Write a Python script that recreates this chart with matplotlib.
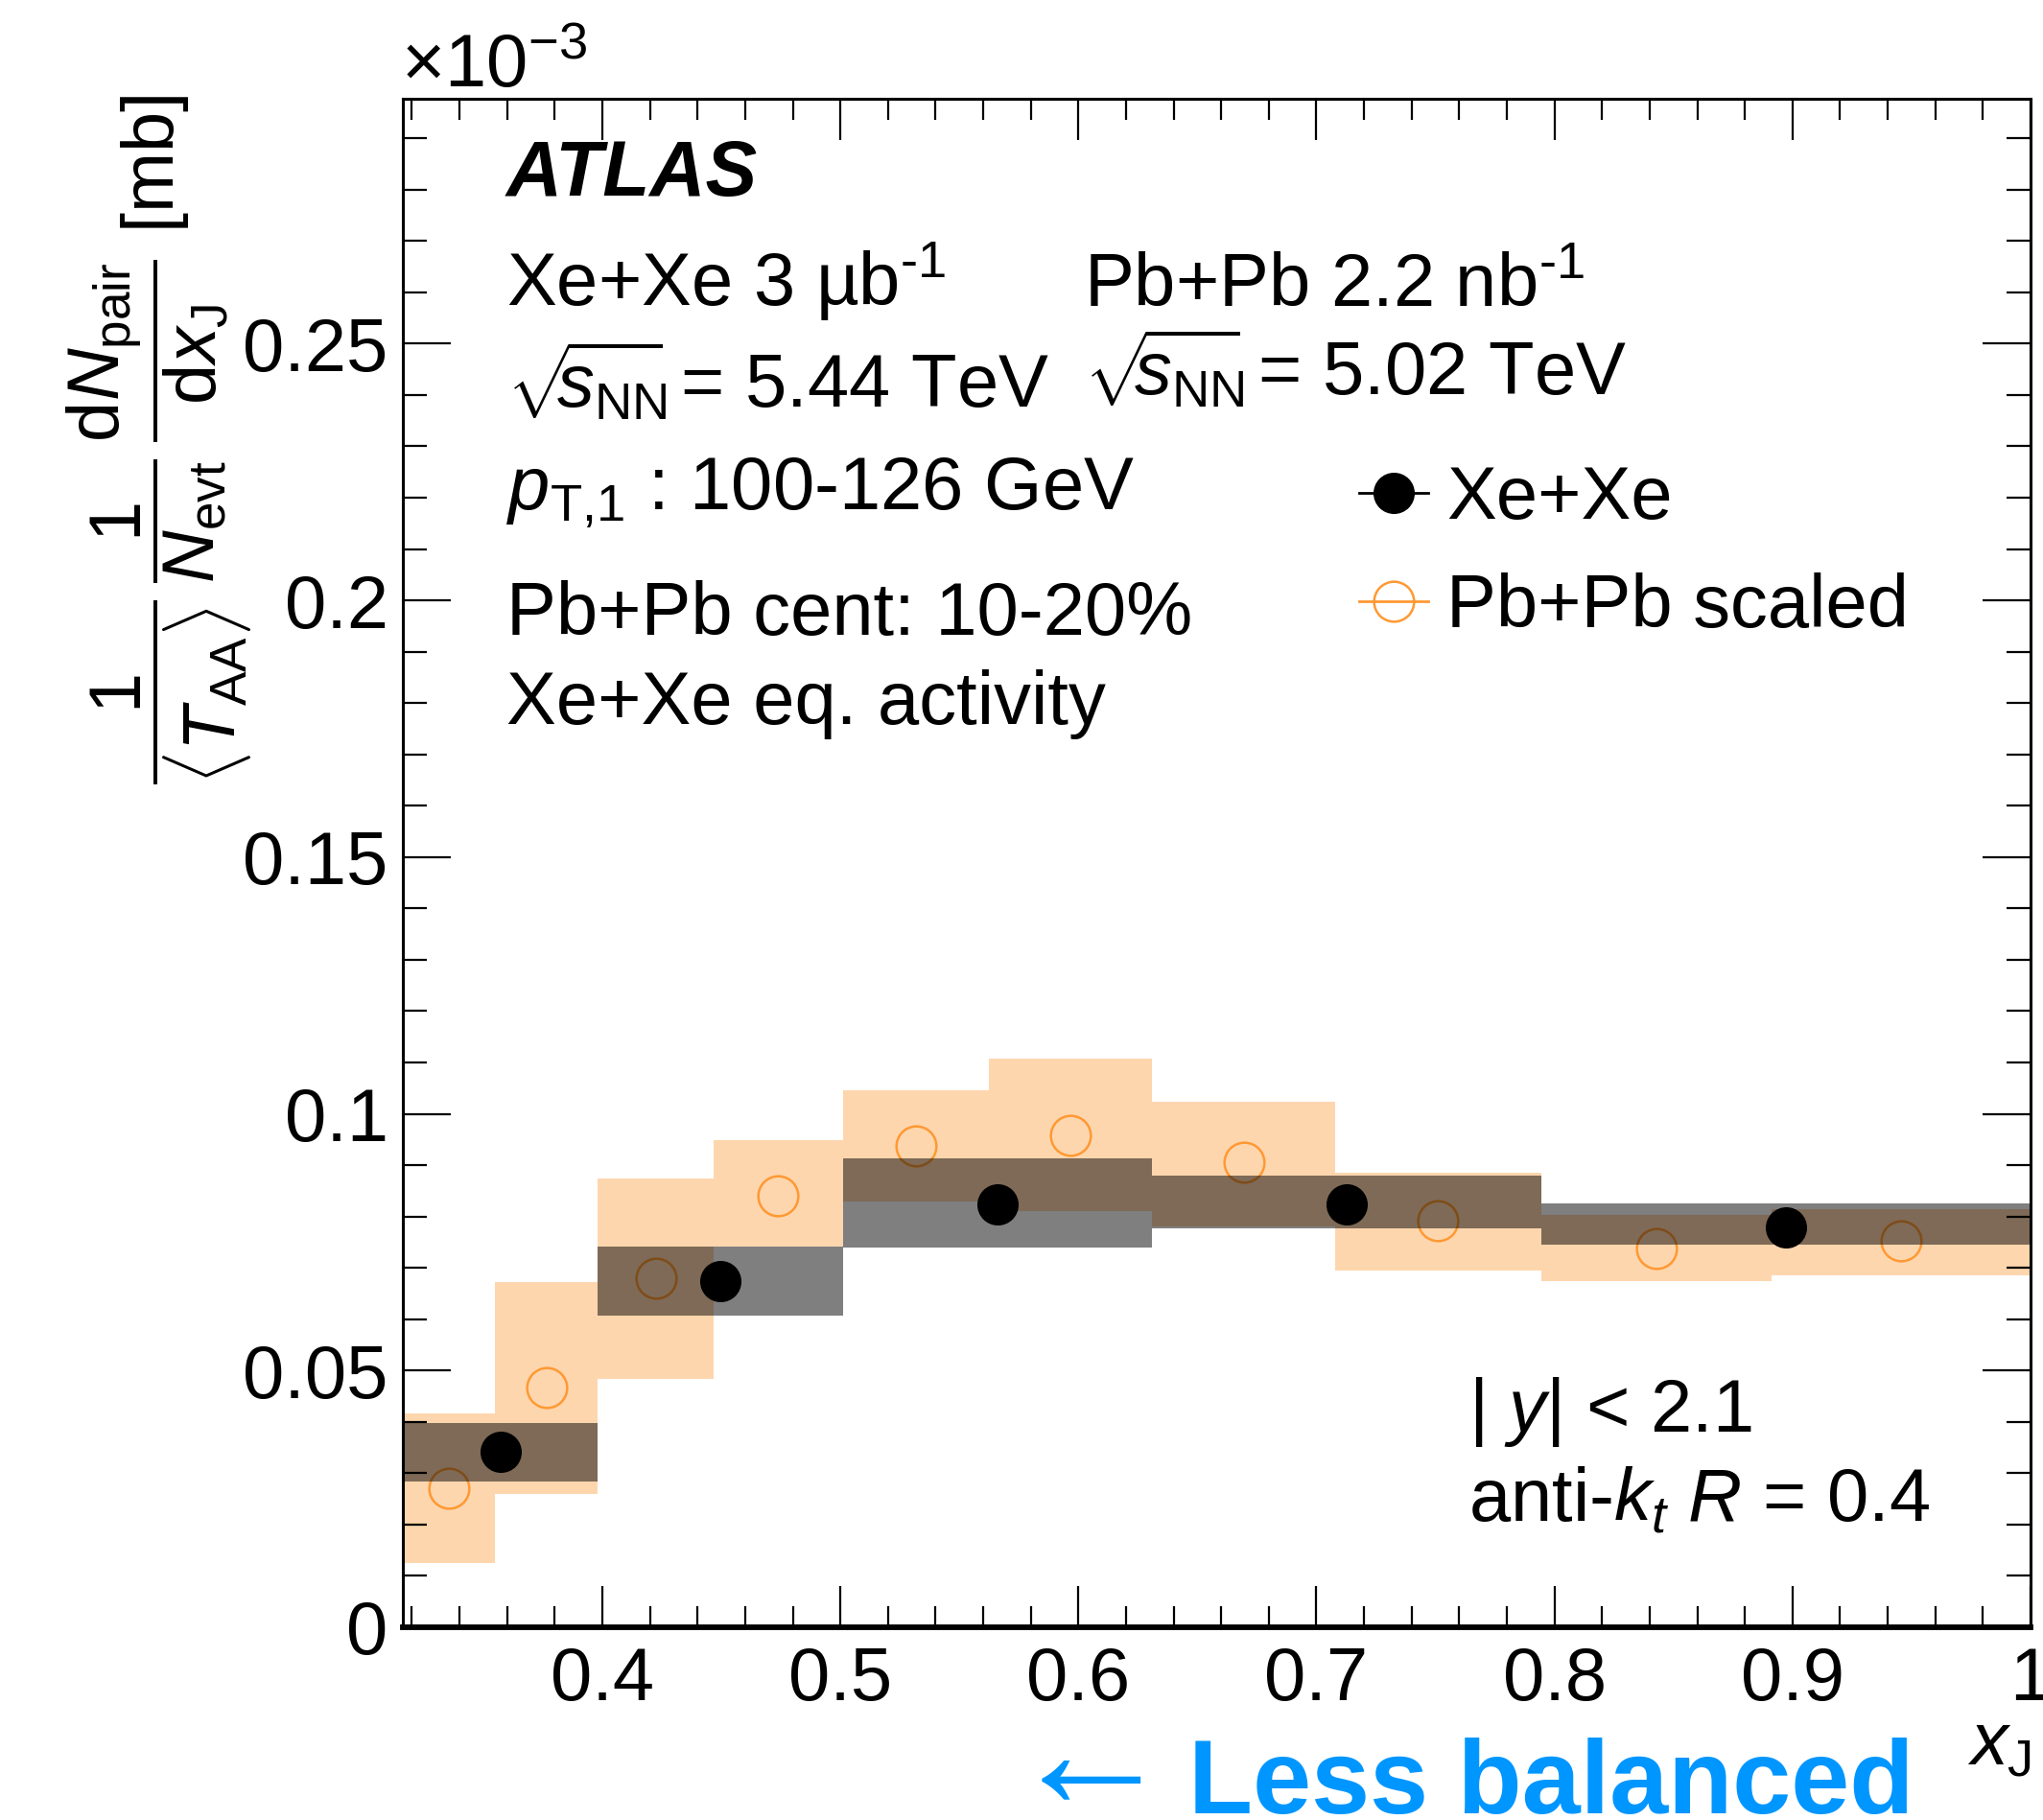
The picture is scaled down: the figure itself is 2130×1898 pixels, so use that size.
import matplotlib
matplotlib.use("Agg")
import matplotlib.pyplot as plt
from matplotlib.ticker import MultipleLocator, FuncFormatter
from matplotlib.lines import Line2D
import numpy as np

plt.rcParams['font.family'] = ['Liberation Sans', 'DejaVu Sans']
plt.rcParams['mathtext.fontset'] = 'custom'
plt.rcParams['mathtext.rm'] = 'Liberation Sans'
plt.rcParams['mathtext.it'] = 'Liberation Sans:italic'
plt.rcParams['mathtext.bf'] = 'Liberation Sans:bold'
plt.rcParams['mathtext.sf'] = 'Liberation Sans'

# Pb+Pb scaled (fine x_J bins), values in units of 1e-3 mb
pb_edges = [0.3162, 0.3548, 0.3981, 0.4467, 0.5012, 0.5623, 0.6310, 0.7079, 0.7943, 0.8913, 1.0]
pb_vals = [0.0271, 0.0466, 0.0680, 0.0841, 0.0938, 0.0959, 0.0906, 0.0792, 0.0737, 0.0753]
pb_sys_hi = [0.0416, 0.0672, 0.0874, 0.0948, 0.1046, 0.1107, 0.1024, 0.0886, 0.0803, 0.0815]
pb_sys_lo = [0.0125, 0.0259, 0.0484, 0.0741, 0.0830, 0.0811, 0.0781, 0.0694, 0.0674, 0.0686]

# Xe+Xe (coarse x_J bins)
xe_edges = [0.3162, 0.3981, 0.5012, 0.6310, 0.7943, 1.0]
xe_vals = [0.0341, 0.0675, 0.0824, 0.0824, 0.0779]
xe_sys_hi = [0.0398, 0.0741, 0.0913, 0.0879, 0.0826]
xe_sys_lo = [0.0284, 0.0607, 0.0739, 0.0777, 0.0746]

W, H = 2130, 1898
fig = plt.figure(figsize=(W / 100, H / 100), dpi=100)
ax = fig.add_axes([420 / W, 1 - 1697 / H, (2117 - 420) / W, (1697 - 103) / H])

orange = '#FF9933'
box_orange = '#FED6AE'

pe = np.array(pb_edges)
xe = np.array(xe_edges)
pb_x = (pe[:-1] + pe[1:]) / 2
xe_x = (xe[:-1] + xe[1:]) / 2

ax.bar(pe[:-1], np.array(pb_sys_hi) - np.array(pb_sys_lo), width=np.diff(pe),
       bottom=pb_sys_lo, align='edge', color=box_orange, lw=0, zorder=1)
ax.plot(pb_x, pb_vals, 'o', ms=30, mfc='none', mec=orange, mew=1.8, zorder=2)
ax.bar(xe[:-1], np.array(xe_sys_hi) - np.array(xe_sys_lo), width=np.diff(xe),
       bottom=xe_sys_lo, align='edge', color='black', alpha=0.5, lw=0, zorder=3)
ax.plot(xe_x, xe_vals, 'o', ms=31, color='black', mew=0, zorder=4)

ax.set_xlim(0.3162, 1.0)
ax.set_ylim(0, 0.2977)

ax.xaxis.set_major_locator(MultipleLocator(0.1))
ax.xaxis.set_minor_locator(MultipleLocator(0.02))
ax.yaxis.set_major_locator(MultipleLocator(0.05))
ax.yaxis.set_minor_locator(MultipleLocator(0.01))
fmt = FuncFormatter(lambda v, p: '%g' % round(v, 4))
ax.xaxis.set_major_formatter(fmt)
ax.yaxis.set_major_formatter(fmt)
ax.tick_params(which='both', direction='in', top=True, right=True, labelsize=56, width=1.6)
ax.tick_params(axis='x', which='major', length=31, pad=14)
ax.tick_params(axis='x', which='minor', length=16)
ax.tick_params(axis='y', which='major', length=36, pad=11)
ax.tick_params(axis='y', which='minor', length=18)
for s in ['top', 'left', 'right']:
    ax.spines[s].set_linewidth(2.2)
ax.spines['bottom'].set_linewidth(4.2)

def T(x, y, s, **kw):
    kw.setdefault('fontsize', 56)
    kw.setdefault('va', 'baseline')
    fig.text(x / W, 1 - y / H, s, **kw)

sqrt_s = r'$\sqrt{\!\!s_{\mathrm{NN}}\!\!}$'
T(418, 91, r'$\times10^{-3}$')
T(528, 204, 'ATLAS', fontweight='bold', fontstyle='italic', fontsize=58)
T(528, 319, r'Xe+Xe 3 µb$^{\text{-1}}$')
T(528, 425, sqrt_s + ' = 5.44 TeV')
T(528, 532, r'$p_{\text{T,1}}$ : 100-126 GeV')
T(528, 662, 'Pb+Pb cent: 10-20%')
T(528, 755, 'Xe+Xe eq. activity')
T(1130, 319, r'Pb+Pb 2.2 nb$^{\text{-1}}$')
T(1130, 412, sqrt_s + ' = 5.02 TeV')
T(1531, 1493, r'| $y$| < 2.1')
T(1531, 1586, r'anti-$k_{t}$ $R$ = 0.4')

T(2118, 1840, r'$x_{\mathrm{J}}$', ha='right')
T(166, 458, r'$\dfrac{1}{\langle T_{\mathrm{AA}}\rangle}\,\dfrac{1}{N_{\mathrm{evt}}}\,'
            r'\dfrac{\mathrm{d}N_{\mathrm{pair}}}{\mathrm{d}x_{\mathrm{J}}}$ [mb]',
  rotation=90, ha='center', va='center', fontsize=54.5)

blue = '#0096FF'
T(1051, 1884, '←', color=blue, fontsize=125)
T(1239, 1891, 'Less balanced', color=blue, fontsize=79, fontweight='bold')

handles = [Line2D([], [], color='black', lw=2, marker='o', ms=31, mew=0),
           Line2D([], [], color=orange, lw=2, marker='o', ms=30, mfc='none', mec=orange, mew=1.8)]
ax.legend(handles, ['Xe+Xe', 'Pb+Pb scaled'], loc='center left',
          bbox_to_anchor=(1417 / W, 1 - 577 / H), bbox_transform=fig.transFigure,
          frameon=False, fontsize=56, handlelength=0.92, handletextpad=0.25,
          labelspacing=0.52, borderpad=0, borderaxespad=0)

fig.savefig('out.png', dpi=100)
